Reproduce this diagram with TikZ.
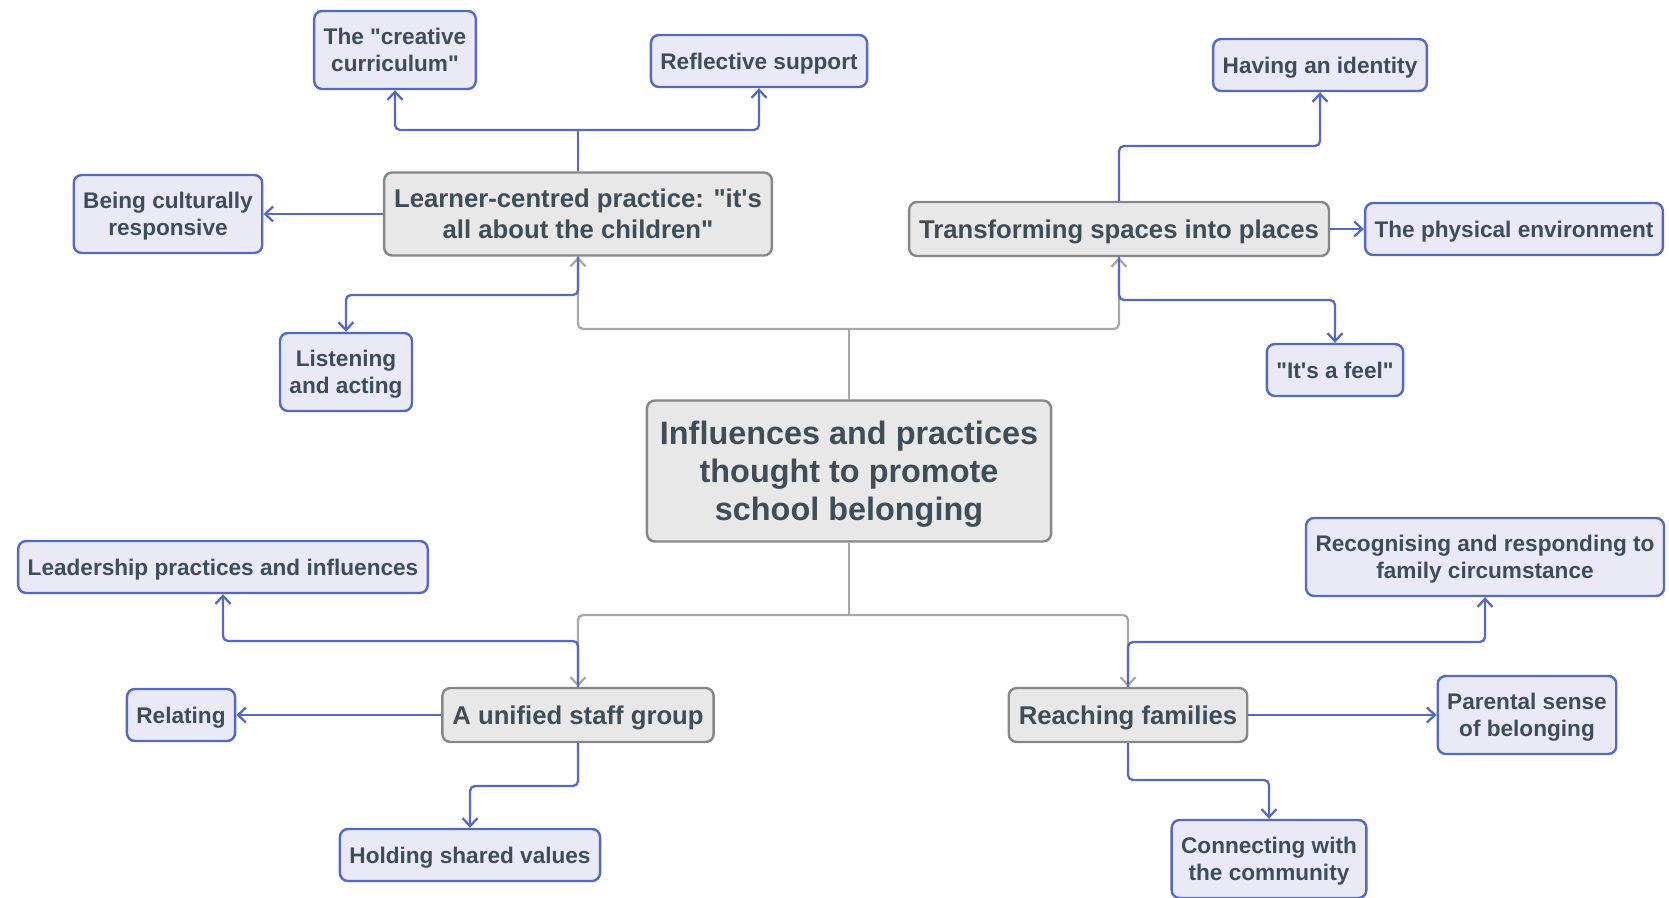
\documentclass[tikz,border=0pt]{standalone}
\usepackage{fontspec}
\setmainfont{Liberation Sans}[Ligatures=TeXOff]
\usetikzlibrary{arrows.meta}

\definecolor{leafline}{HTML}{5468C6}
\definecolor{leaffill}{HTML}{E9EAF6}
\definecolor{hubline}{HTML}{878787}
\definecolor{hubfill}{HTML}{E8E8E8}
\definecolor{txt}{HTML}{3E4E59}
\definecolor{gline}{HTML}{A8A8A8}

% struts so that every label block is centred on its cap height;
% extralines adds the baseline skips above the last line of a multi-line label
\pgfkeys{/tikz/extralines/.initial=0pt}
\newcommand\capstrutTop{\rule{0pt}{\dimexpr 0.93em+\pgfkeysvalueof{/tikz/extralines}\relax}}
\newcommand\capstrutBot{\rule[-0.214em]{0pt}{0.214em}}

\tikzset{
  box/.style={rounded corners=8pt, line width=2.4pt, text=txt, align=center, inner ysep=0pt,
    execute at begin node=\capstrutTop, execute at end node=\capstrutBot},
  leaf/.style={box, draw=leafline, fill=leaffill, inner xsep=9.5pt, minimum height=52pt,
    font=\bfseries\fontsize{22.6}{27.7}\selectfont},
  leaftwo/.style={leaf, minimum height=78pt, extralines=27.7pt},
  hub/.style={box, draw=hubline, fill=hubfill, inner xsep=10pt, minimum height=54pt,
    font=\bfseries\fontsize{25.7}{30.9}\selectfont},
  hubtwo/.style={hub, minimum height=83pt, extralines=30.9pt},
  core/.style={box, draw=hubline, fill=hubfill, inner xsep=13pt, minimum height=141pt,
    font=\bfseries\fontsize{32.4}{38.3}\selectfont, extralines=76.6pt},
  link/.style={draw=leafline, line width=2.3pt, rounded corners=5pt},
  barr/.style={link, -{Straight Barb[length=8pt,width=15pt]}},
  glink/.style={draw=gline, line width=2.3pt, rounded corners=5pt},
  garr/.style={glink, -{Straight Barb[length=8pt,width=15pt]}},
}

\begin{document}
\begin{tikzpicture}[x=1pt, y=-1pt]
\useasboundingbox (0,0) rectangle (1669,897);

% hub and leaf boxes
\node[leaftwo] (creative) at (395,50) {The "creative\\curriculum"};
\node[leaf] (reflect) at (759,61) {Reflective support};
\node[leaf] (identity) at (1320,65) {Having an identity};
\node[leaftwo] (cultural) at (168,214) {Being culturally\\responsive};
\node[hubtwo] (learner) at (578,214) {Learner-centred practice: "it's\\all about the children"};
\node[hub] (spaces) at (1119,229) {Transforming spaces into places};
\node[leaf] (physical) at (1514,229) {The physical environment};
\node[leaftwo] (listen) at (346,372) {Listening\\and acting};
\node[leaf] (feel) at (1335,370) {"It's a feel"};
\node[core] (root) at (849,471) {Influences and practices\\thought to promote\\school belonging};
\node[leaf] (leader) at (223,567) {Leadership practices and influences};
\node[leaftwo] (family) at (1485,557) {Recognising and responding to\\family circumstance};
\node[leaf] (relate) at (181,715) {Relating};
\node[hub] (staff) at (578,715) {A unified staff group};
\node[hub] (reach) at (1128,715) {Reaching families};
\node[leaftwo] (parent) at (1527,715) {Parental sense\\of belonging};
\node[leaf] (values) at (470,855) {Holding shared values};
\node[leaftwo] (community) at (1269,859) {Connecting with\\the community};

% rail heights for the elbow connectors
\coordinate (railLT) at (0,130);
\coordinate (railLB) at (0,295);
\coordinate (railST) at (0,146);
\coordinate (railSB) at (0,300);
\coordinate (railRT) at (0,329);
\coordinate (railRB) at (0,615);
\coordinate (railFT) at (0,641);
\coordinate (railFB) at (0,786);
\coordinate (railHT) at (0,642);
\coordinate (railHB) at (0,780);

% grey links from the central topic
\draw[glink] (root.north) -- (root.north |- railRT);
\draw[garr] (root.north |- railRT) -| (learner.south);
\draw[garr] (root.north |- railRT) -| (spaces.south);
\draw[glink] (root.south) -- (root.south |- railRB);
\draw[garr] (root.south |- railRB) -| (staff.north);
\draw[garr] (root.south |- railRB) -| (reach.north);

% learner-centred practice
\draw[link] (learner.north) -- (learner.north |- railLT);
\draw[barr] (learner.north |- railLT) -| (creative.south);
\draw[barr] (learner.north |- railLT) -| (reflect.south);
\draw[barr] (learner.west) -- (cultural.east);
\draw[barr] (learner.south) -- (learner.south |- railLB) -| (listen.north);

% transforming spaces into places
\draw[barr] (spaces.north) -- (spaces.north |- railST) -| (identity.south);
\draw[barr] (spaces.east) -- (physical.west);
\draw[barr] (spaces.south) -- (spaces.south |- railSB) -| (feel.north);

% a unified staff group
\draw[barr] (staff.north) -- (staff.north |- railFT) -| (leader.south);
\draw[barr] (staff.west) -- (relate.east);
\draw[barr] (staff.south) -- (staff.south |- railFB) -| (values.north);

% reaching families
\draw[barr] (reach.north) -- (reach.north |- railHT) -| (family.south);
\draw[barr] (reach.east) -- (parent.west);
\draw[barr] (reach.south) -- (reach.south |- railHB) -| (community.north);
\end{tikzpicture}
\end{document}
